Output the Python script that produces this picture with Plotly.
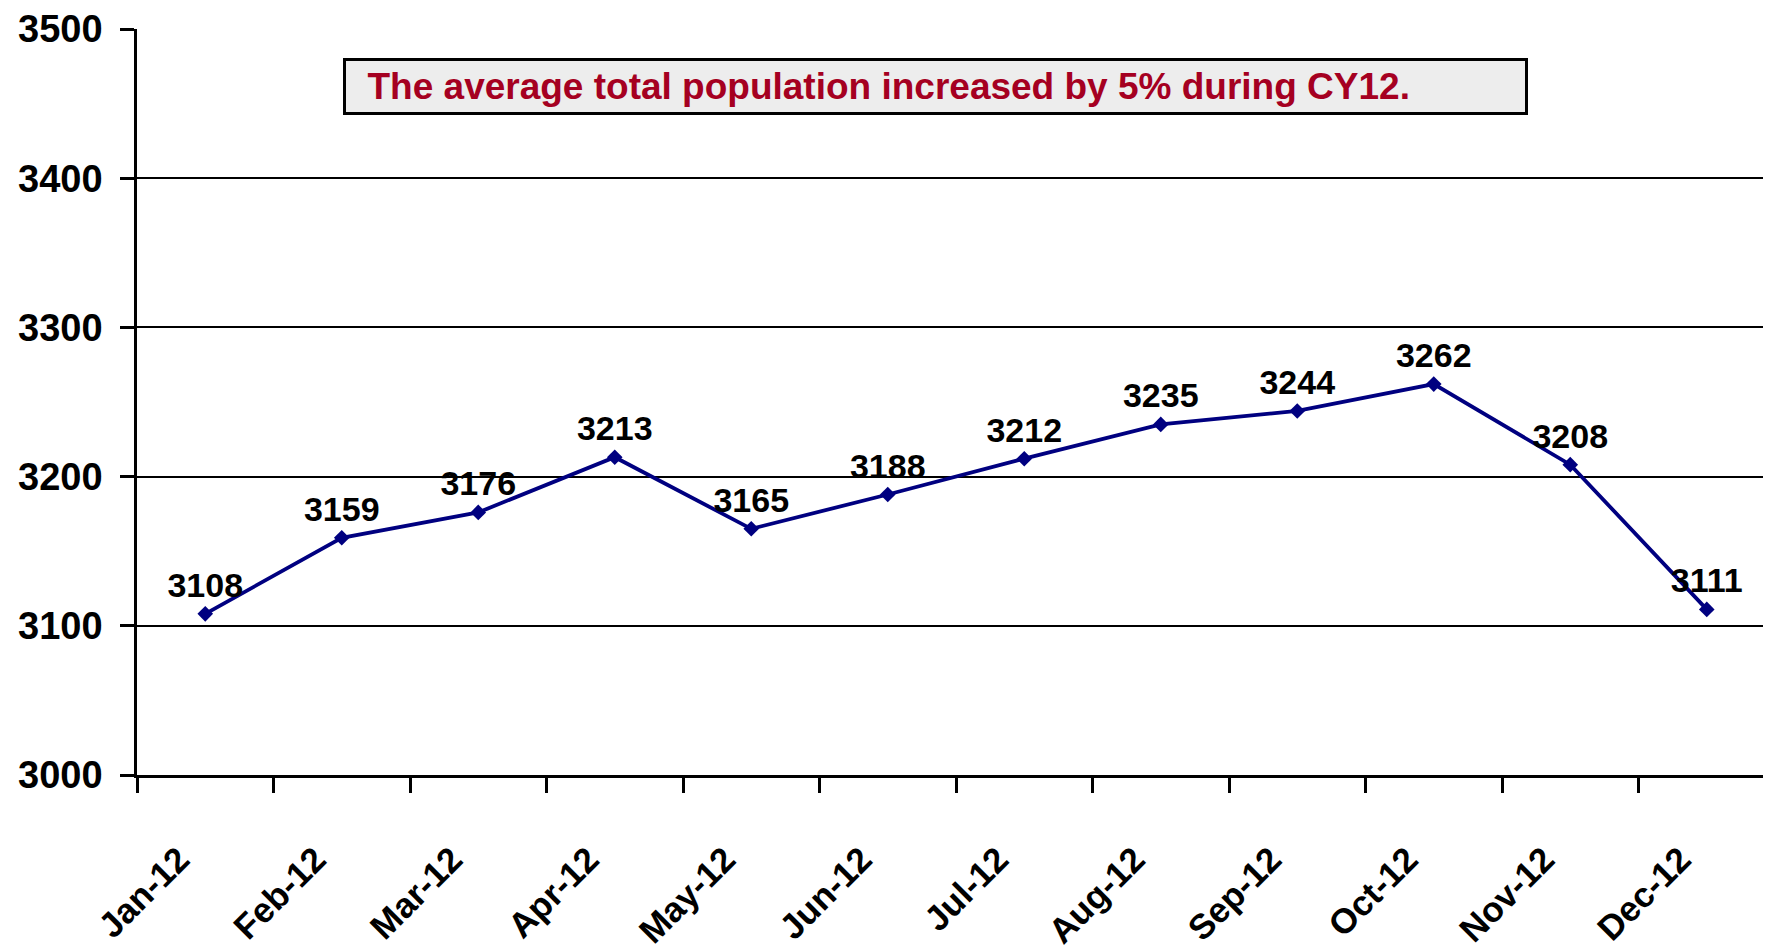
import plotly.graph_objects as go

months = ["Jan-12", "Feb-12", "Mar-12", "Apr-12", "May-12", "Jun-12",
          "Jul-12", "Aug-12", "Sep-12", "Oct-12", "Nov-12", "Dec-12"]
population = [3108, 3159, 3176, 3213, 3165, 3188, 3212, 3235, 3244, 3262, 3208, 3111]
y_ticks = [3000, 3100, 3200, 3300, 3400, 3500]
note = "The average total population increased by 5% during CY12."

FONT = "Liberation Sans, Arial, sans-serif"

# page body adds an 8px offset; compensate in margins
OFF = 8
PL, PT, PR, PB = 137, 29, 1775, 775  # desired plot area in page pixels
W, H = 1771, 949

fig = go.Figure()
fig.add_trace(go.Scatter(
    x=months, y=population, mode="lines+markers+text",
    text=[str(v) for v in population], textposition="top center",
    textfont=dict(family=FONT, size=34, color="black", weight="bold"),
    line=dict(color="#000080", width=3.8),
    marker=dict(symbol="diamond", size=12, color="#000080"),
    cliponaxis=False, showlegend=False,
))

fig.update_layout(
    width=W, height=H,
    margin=dict(l=PL - OFF, r=W - (PR - OFF), t=PT - OFF, b=H - (PB - OFF)),
    plot_bgcolor="white", paper_bgcolor="white",
    xaxis=dict(
        type="category", tickson="boundaries", automargin=False,
        range=[-0.5, len(months) - 0.5],
        showline=True, linecolor="black", linewidth=2.5,
        ticks="outside", ticklen=15, tickwidth=2.5, tickcolor="black",
        showgrid=False, tickangle=-45,
        tickfont=dict(family=FONT, size=35, color="black", weight="bold"),
        ticklabelstandoff=47, ticklabelshift=-26,
    ),
    yaxis=dict(
        range=[3000, 3500], tickvals=y_ticks, automargin=False,
        showline=True, linecolor="black", linewidth=2.5,
        ticks="outside", ticklen=14, tickwidth=2.5, tickcolor="black",
        showgrid=True, gridcolor="black", gridwidth=2,
        zeroline=False,
        tickfont=dict(family=FONT, size=38, color="black", weight="bold"),
        ticklabelstandoff=10,
    ),
    annotations=[dict(
        xref="paper", yref="paper",
        x=(343 - PL) / (PR - PL), y=(PB - 58) / (PB - PT),
        xanchor="left", yanchor="top", showarrow=False,
        text="\u2002" + note, align="left",
        width=1173, height=45, borderpad=3, borderwidth=3, bordercolor="black",
        bgcolor="#EDEDED",
        font=dict(family=FONT, size=37, color="#A50021", weight="bold"),
    )],
)

fig.write_html("out.html")
